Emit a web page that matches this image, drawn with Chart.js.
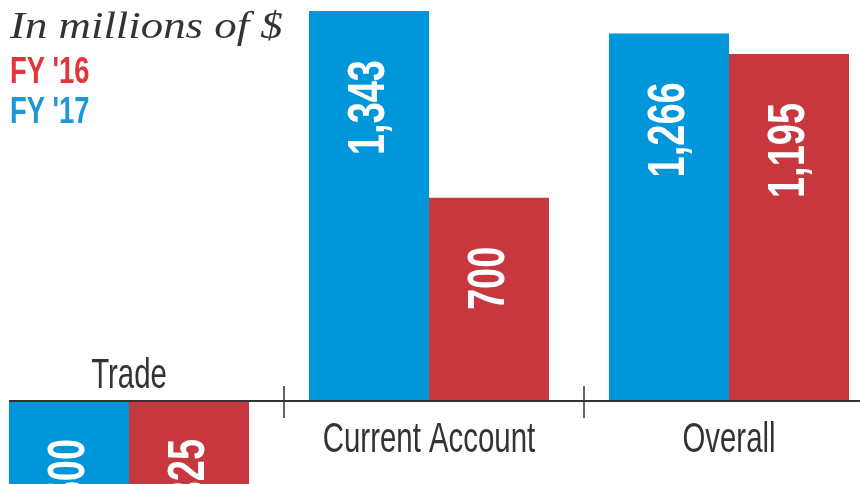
<!DOCTYPE html>
<html>
<head>
<meta charset="utf-8">
<script src="https://cdn.jsdelivr.net/npm/chart.js@4/dist/chart.umd.min.js"></script>
<style>
  html, body { margin: 0; padding: 0; background: #fff; overflow: hidden; }
  #wrap { position: absolute; left: -21px; top: 0; width: 900px; height: 484px; }
</style>
</head>
<body>
<div id="wrap"><canvas id="myChart"></canvas></div>
<script>
const categories = ["Trade", "Current Account", "Overall"]
const fy17 = [-1500, 1343, 1266]
const fy16 = [-1325, 700, 1195]
const seriesNames = ["FY '17", "FY '16"]
const unitNote = "In millions of $"

const barBlue = "#0097da"
const barRed = "#c8363e"
const legendBlue = "#1b98d6"
const legendRed = "#e5343b"
const ink = "#333333"

// draws labels, axis line and legend text on top of the bars
const overlay = {
    id: "overlay",
    afterDatasetsDraw(chart) {
        const ctx = chart.ctx
        const xs = chart.scales.x
        const ys = chart.scales.y
        const y0 = ys.getPixelForValue(0)

        // value labels, rotated
        chart.data.datasets.forEach((ds, di) => {
            const meta = chart.getDatasetMeta(di)
            meta.data.forEach((bar, i) => {
                const v = ds.data[i]
                const size = 52
                const endY = v >= 0 ? bar.y + 49 : y0 + 38
                ctx.save()
                ctx.fillStyle = "#ffffff"
                ctx.font = "bold " + size + "px 'Liberation Sans', Arial, sans-serif"
                ctx.translate(bar.x - 4 + size * 0.716 / 2, endY)
                ctx.rotate(-Math.PI / 2)
                ctx.scale(0.73, 1)
                ctx.textAlign = "right"
                ctx.textBaseline = "alphabetic"
                ctx.fillText(v.toLocaleString("en-US"), 0, 0)
                ctx.restore()
            })
        })

        // zero line
        const first = chart.getDatasetMeta(0).data[0]
        ctx.save()
        ctx.strokeStyle = ink
        ctx.lineWidth = 2
        ctx.beginPath()
        ctx.moveTo(first.x - first.width / 2, y0)
        ctx.lineTo(chart.width, y0)
        ctx.stroke()

        // separators between categories
        ctx.lineWidth = 1.5
        for (let i = 0; i < categories.length - 1; i++) {
            const bx = (xs.getPixelForValue(i) + xs.getPixelForValue(i + 1)) / 2 + 5
            ctx.beginPath()
            ctx.moveTo(bx, y0 - 15)
            ctx.lineTo(bx, y0 + 17)
            ctx.stroke()
        }

        // category names, above the line when the group is negative
        ctx.fillStyle = ink
        ctx.font = "42px 'Liberation Sans', Arial, sans-serif"
        ctx.textAlign = "center"
        ctx.textBaseline = "alphabetic"
        categories.forEach((name, i) => {
            const neg = Math.max(fy17[i], fy16[i]) < 0
            const cx = xs.getPixelForValue(i)
            const by = neg ? y0 - 13 : y0 + 51
            ctx.save()
            ctx.translate(cx, by)
            ctx.scale(0.7, 1)
            ctx.fillText(name, 0, 0)
            ctx.restore()
        })
        ctx.restore()

        // legend block top-left
        const left = 21 + 10
        ctx.save()
        ctx.textAlign = "left"
        ctx.textBaseline = "alphabetic"
        ctx.fillStyle = ink
        ctx.font = "italic 38px 'Liberation Serif', 'DejaVu Serif', serif"
        ctx.save()
        ctx.translate(left, 38)
        ctx.scale(1.18, 1)
        ctx.fillText(unitNote, 0, 0)
        ctx.restore()

        ctx.font = "bold 36px 'Liberation Sans', Arial, sans-serif"
        const legendItems = [[seriesNames[1], legendRed, 83], [seriesNames[0], legendBlue, 123]]
        legendItems.forEach(([txt, col, by]) => {
            ctx.save()
            ctx.fillStyle = col
            ctx.translate(left, by)
            ctx.scale(0.76, 1)
            ctx.fillText(txt, 0, 0)
            ctx.restore()
        })
        ctx.restore()
    }
}

const datasets = [
    { label: seriesNames[0], data: fy17, backgroundColor: barBlue, borderWidth: 0 },
    { label: seriesNames[1], data: fy16, backgroundColor: barRed, borderWidth: 0 }
]

const config = {
    type: "bar",
    data: { labels: categories, datasets },
    options: {
        responsive: true,
        maintainAspectRatio: false,
        animation: false,
        layout: { padding: 0 },
        datasets: { bar: { barPercentage: 1, categoryPercentage: 0.8 } },
        plugins: { legend: { display: false }, tooltip: { enabled: false } },
        scales: {
            x: { display: false },
            y: { display: false, min: -286, max: 1381 }
        }
    },
    plugins: [overlay]
}

const chart = document.getElementById("myChart")
const myChart = new Chart(chart, config)
</script>
</body>
</html>
